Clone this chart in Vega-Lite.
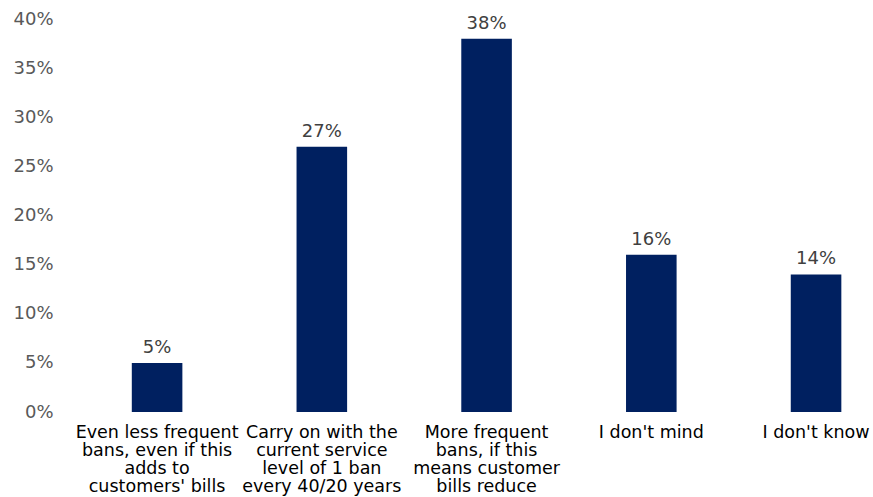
{
  "$schema": "https://vega.github.io/schema/vega-lite/v6.json",
  "width": 813,
  "height": 393,
  "autosize": {"type": "none"},
  "padding": {"left": 60, "top": 19, "right": 0, "bottom": 85},
  "background": "white",
  "config": {"view": {"stroke": null}, "font": "DejaVu Sans"},
  "data": {"values": [
    {"category": "Even less frequent\nbans, even if this\nadds to\ncustomers' bills", "value": 0.05},
    {"category": "Carry on with the\ncurrent service\nlevel of 1 ban\nevery 40/20 years", "value": 0.27},
    {"category": "More frequent\nbans, if this\nmeans customer\nbills reduce", "value": 0.38},
    {"category": "I don't mind", "value": 0.16},
    {"category": "I don't know", "value": 0.14}
  ]},
  "encoding": {
    "x": {"field": "category", "type": "nominal", "sort": null,
      "scale": {"paddingInner": 0.693, "paddingOuter": 0.314, "align": 0.694},
      "axis": {"title": null, "labelAngle": 0, "domain": false, "ticks": false,
        "labelExpr": "split(datum.label, '\\n')", "labelLineHeight": 18,
        "labelFontSize": 17.5, "labelColor": "#000000", "labelPadding": 11, "labelBaseline": "top"}},
    "y": {"field": "value", "type": "quantitative",
      "scale": {"domain": [0, 0.4]},
      "axis": {"title": null, "values": [0,0.05,0.1,0.15,0.2,0.25,0.3,0.35,0.4], "format": ".0%",
        "grid": false, "domain": false, "ticks": false, "labelFontSize": 18, "labelColor": "#595959", "labelPadding": 7}}
  },
  "layer": [
    {"mark": {"type": "bar", "color": "#002060"}},
    {"mark": {"type": "text", "baseline": "alphabetic", "dy": -10, "fontSize": 18, "color": "#404040"},
      "encoding": {"text": {"field": "value", "type": "quantitative", "format": ".0%"}}}
  ]
}
